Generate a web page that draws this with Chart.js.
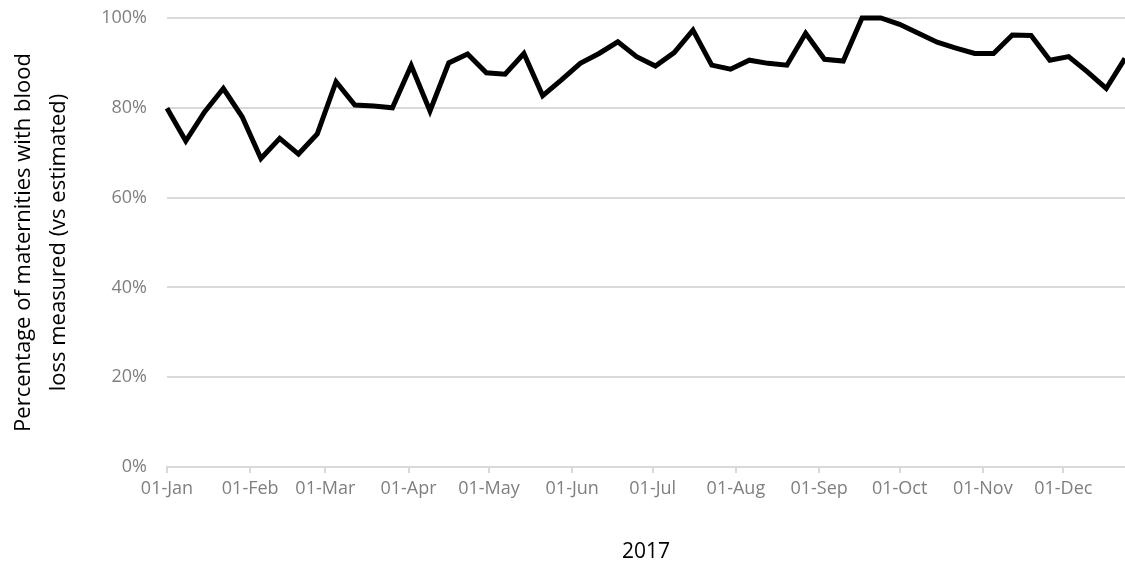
<!DOCTYPE html>
<html>
<head>
<meta charset="utf-8">
<script src="https://cdn.jsdelivr.net/npm/chart.js@4"></script>
<style>
  html, body { margin: 0; padding: 0; background: #fff; }
  #wrap { width: 1125px; height: 571px; }
</style>
</head>
<body>
<div id="wrap"><canvas id="myChart"></canvas></div>
<script>
// week starting dates (2017)
const weeks = [
  "01-Jan", "08-Jan", "15-Jan", "22-Jan", "29-Jan",
  "05-Feb", "12-Feb", "19-Feb", "26-Feb",
  "05-Mar", "12-Mar", "19-Mar", "26-Mar",
  "02-Apr", "09-Apr", "16-Apr", "23-Apr", "30-Apr",
  "07-May", "14-May", "21-May", "28-May",
  "04-Jun", "11-Jun", "18-Jun", "25-Jun",
  "02-Jul", "09-Jul", "16-Jul", "23-Jul", "30-Jul",
  "06-Aug", "13-Aug", "20-Aug", "27-Aug",
  "03-Sep", "10-Sep", "17-Sep", "24-Sep",
  "01-Oct", "08-Oct", "15-Oct", "22-Oct", "29-Oct",
  "05-Nov", "12-Nov", "19-Nov", "26-Nov",
  "03-Dec", "10-Dec", "17-Dec", "24-Dec"
];

// % of maternities with blood loss measured
const measured = [
  79.9, 72.6, 79.1, 84.3, 78.0,
  68.7, 73.2, 69.7, 74.2,
  85.8, 80.6, 80.4, 80.0,
  89.4, 79.3, 90.0, 92.0, 87.8,
  87.5, 92.1, 82.7, 86.2,
  89.9, 92.1, 94.7, 91.4,
  89.3, 92.3, 97.3, 89.5, 88.6,
  90.6, 89.9, 89.5, 96.6,
  90.8, 90.4, 100, 100,
  98.6, 96.6, 94.6, 93.3, 92.1,
  92.1, 96.2, 96.1, 90.6,
  91.4, 88.0, 84.3, 91.0
];

const monthLabels = ["01-Jan", "01-Feb", "01-Mar", "01-Apr", "01-May", "01-Jun",
  "01-Jul", "01-Aug", "01-Sep", "01-Oct", "01-Nov", "01-Dec"];

const yTicks = [0, 20, 40, 60, 80, 100];

const monthIdx = { Jan: 0, Feb: 1, Mar: 2, Apr: 3, May: 4, Jun: 5, Jul: 6, Aug: 7, Sep: 8, Oct: 9, Nov: 10, Dec: 11 };
function dayOfYear(lbl) {
  const [d, m] = lbl.split("-");
  return (Date.UTC(2017, monthIdx[m], +d) - Date.UTC(2017, 0, 1)) / 86400000;
}

const monthDays = monthLabels.map(dayOfYear);
const points = weeks.map((w, i) => ({ x: dayOfYear(w), y: measured[i] }));

const font = "'Open Sans', sans-serif";

const config = {
  type: "line",
  data: {
    datasets: [
      {
        label: "Blood loss measured",
        data: points,
        borderColor: "#000",
        borderWidth: 5,
        pointRadius: 0,
        tension: 0,
        clip: false,
      },
    ],
  },
  options: {
    responsive: true,
    maintainAspectRatio: false,
    animation: false,
    layout: { padding: { top: 18, right: 0, left: 0, bottom: 0 } },
    plugins: { legend: { display: false }, tooltip: { enabled: false } },
    scales: {
      x: {
        type: "linear",
        min: 0,
        max: dayOfYear(weeks[weeks.length - 1]),
        afterBuildTicks: (scale) => {
          scale.ticks = monthDays.map((v) => ({ value: v }));
        },
        afterFit: (scale) => { scale.height = 104; },
        ticks: {
          autoSkip: false,
          maxRotation: 0,
          padding: 5,
          color: "#7f7f7f",
          font: { family: font, size: 18 },
          callback: (v) => monthLabels[monthDays.indexOf(v)],
        },
        grid: { display: true, drawOnChartArea: false, tickLength: 6, color: "#d9d9d9", lineWidth: 2 },
        border: { color: "#d9d9d9", width: 2 },
        title: {
          display: true,
          text: "2017",
          color: "#000",
          font: { family: font, size: 21 },
          padding: { top: 0, bottom: 6 },
        },
      },
      y: {
        min: 0,
        max: 100,
        afterBuildTicks: (scale) => {
          scale.ticks = yTicks.map((v) => ({ value: v }));
        },
        afterFit: (scale) => {
          scale.width = 167;
          scale.paddingTop = 0;
          scale.paddingBottom = 0;
        },
        ticks: {
          padding: 20,
          color: "#7f7f7f",
          font: { family: font, size: 18 },
          callback: (v) => v + "%",
        },
        grid: { color: "#d9d9d9", lineWidth: 2, tickLength: 0 },
        border: { display: false },
        title: {
          display: true,
          text: ["Percentage of maternities with blood", "loss measured (vs estimated)"],
          color: "#000",
          font: { family: font, size: 22, lineHeight: 1.6 },
          padding: { top: 6, bottom: 0 },
        },
      },
    },
  },
};

const myChart = new Chart(document.getElementById("myChart"), config);
</script>
</body>
</html>
